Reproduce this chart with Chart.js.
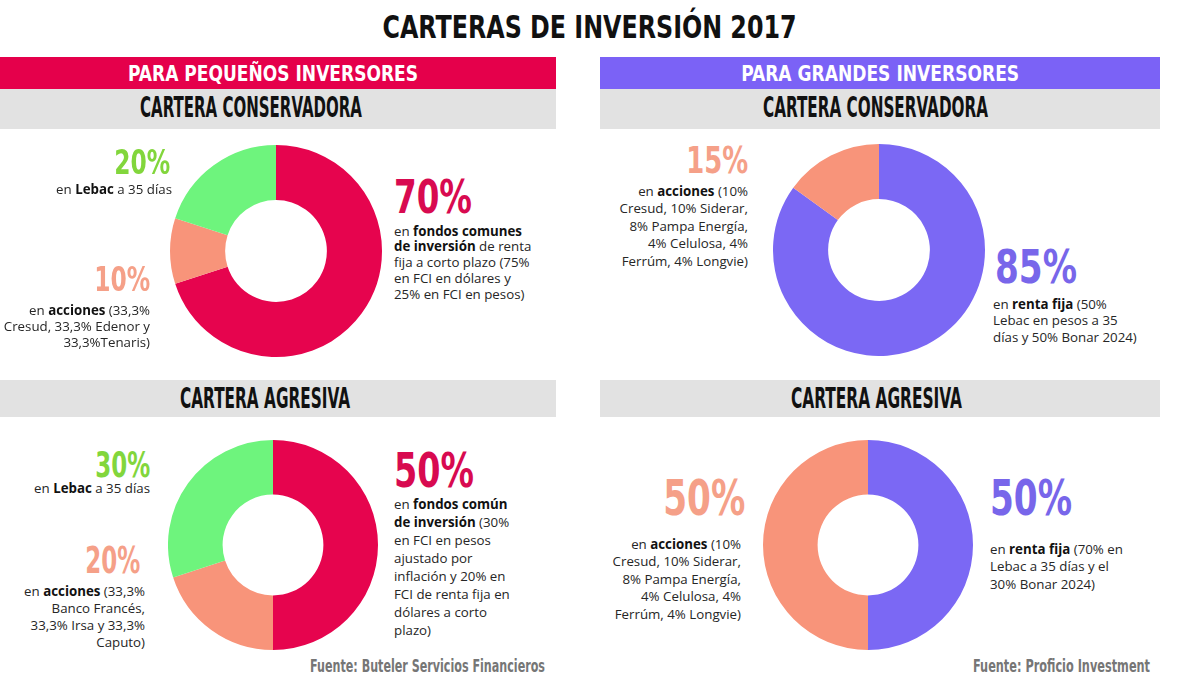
<!DOCTYPE html>
<html><head><meta charset="utf-8">
<script src="https://cdn.jsdelivr.net/npm/chart.js@4/dist/chart.umd.min.js"></script>
<style>
html,body{margin:0;padding:0;background:#fff;}
#page{position:relative;width:1200px;height:675px;overflow:hidden;background:#fff;}
.t{position:absolute;white-space:nowrap;line-height:1;}
.cond{font-family:'Liberation Sans Narrow','DejaVu Sans Condensed',sans-serif;font-weight:700;}
.ln{position:absolute;white-space:nowrap;font-family:'Open Sans',sans-serif;font-size:13.3px;line-height:18px;color:#262626;}
.ln b{color:#111;font-weight:700;}
.bar{position:absolute;}
canvas{position:absolute;}
</style></head>
<body><div id="page"></div>
<script>
// ---------- DATA ----------
const smallConsLabels = ['Fondos comunes de inversión', 'Acciones', 'Lebac a 35 días'];
const smallConsValues = [70, 10, 20];
const bigConsLabels = ['Renta fija', 'Acciones'];
const bigConsValues = [85, 15];
const smallAggLabels = ['Fondos común de inversión', 'Acciones', 'Lebac a 35 días'];
const smallAggValues = [50, 20, 30];
const bigAggLabels = ['Renta fija', 'Acciones'];
const bigAggValues = [50, 50];

const smallConsNotes = [
  ['en <b>fondos comunes</b>', '<b>de inversión</b> de renta', 'fija a corto plazo (75%', 'en FCI en dólares y', '25% en FCI en pesos)'],
  ['en <b>acciones</b> (33,3%', 'Cresud, 33,3% Edenor y', '33,3%Tenaris)'],
  ['en <b>Lebac</b> a 35 días']
];
const bigConsNotes = [
  ['en <b>renta fija</b> (50%', 'Lebac en pesos a 35', 'días y 50% Bonar 2024)'],
  ['en <b>acciones</b> (10%', 'Cresud, 10% Siderar,', '8% Pampa Energía,', '4% Celulosa, 4%', 'Ferrúm, 4% Longvie)']
];
const smallAggNotes = [
  ['en <b>fondos común</b>', '<b>de inversión</b> (30%', 'en FCI en pesos', 'ajustado por', 'inflación y 20% en', 'FCI de renta fija en', 'dólares a corto', 'plazo)'],
  ['en <b>acciones</b> (33,3%', 'Banco Francés,', '33,3% Irsa y 33,3%', 'Caputo)'],
  ['en <b>Lebac</b> a 35 días']
];
const bigAggNotes = [
  ['en <b>renta fija</b> (70% en', 'Lebac a 35 días y el', '30% Bonar 2024)'],
  ['en <b>acciones</b> (10%', 'Cresud, 10% Siderar,', '8% Pampa Energía,', '4% Celulosa, 4%', 'Ferrúm, 4% Longvie)']
];

const titleText = 'CARTERAS DE INVERSIÓN 2017';
const groupTitles = ['PARA PEQUEÑOS INVERSORES', 'PARA GRANDES INVERSORES'];
const portfolioTitles = ['CARTERA CONSERVADORA', 'CARTERA AGRESIVA'];
const sources = ['Fuente: Buteler Servicios Financieros', 'Fuente: Proficio Investment'];

// ---------- STYLE ----------
const RED = '#e6044e', SALMON = '#f8947a', GREEN = '#6ef47d', PURPLE = '#7b68f4';
const RED_T = '#d80a50', SALMON_T = '#f5a088', GREEN_T = '#82d63c', PURPLE_T = '#7866ea';
const page = document.getElementById('page');

function bar(x, y, w, h, c) {
  const d = document.createElement('div'); d.className = 'bar';
  Object.assign(d.style, {left: x + 'px', top: y + 'px', width: w + 'px', height: h + 'px', background: c});
  page.appendChild(d);
}
const fits = [];
function fitText(txt, o) {
  const d = document.createElement('div'); d.className = 't cond';
  d.textContent = txt;
  const fs = o.cap / 0.716;
  d.style.fontSize = fs + 'px'; d.style.color = o.color;
  if (o.weight) d.style.fontWeight = o.weight;
  page.appendChild(d);
  fits.push({d, o, fs});
}
function layoutFits() {
  fits.forEach(({d, o, fs}) => {
    d.style.transform = 'none';
    const w = d.getBoundingClientRect().width;
    const s = o.w / w;
    d.style.top = (o.capTop - 0.1305 * fs) + 'px';
    if (o.align === 'left') { d.style.left = o.x + 'px'; d.style.transformOrigin = 'left top'; }
    else if (o.align === 'right') { d.style.left = (o.x - w) + 'px'; d.style.transformOrigin = 'right top'; }
    else { d.style.left = (o.x - w / 2) + 'px'; d.style.transformOrigin = 'center top'; }
    d.style.transform = 'scaleX(' + s + ')';
  });
}
function lines(arr, align, x, firstCenter, step) {
  arr.forEach((h, i) => {
    const d = document.createElement('div'); d.className = 'ln';
    d.innerHTML = h;
    d.style.top = (firstCenter + i * step - 10.5) + 'px';
    if (align === 'left') d.style.left = x + 'px';
    else { d.style.right = (1200 - x) + 'px'; d.style.textAlign = 'right'; }
    page.appendChild(d);
  });
}
function donut(labels, values, colors, cx, cy, r) {
  const c = document.createElement('canvas');
  const s = 2 * r;
  Object.assign(c.style, {left: (cx - r) + 'px', top: (cy - r) + 'px', width: s + 'px', height: s + 'px'});
  c.width = s; c.height = s;
  page.appendChild(c);
  new Chart(c, {
    type: 'doughnut',
    data: {labels, datasets: [{data: values, backgroundColor: colors, borderWidth: 0, hoverOffset: 0}]},
    options: {responsive: false, animation: false, cutout: '48%', events: [],
      layout: {padding: 0}, plugins: {legend: {display: false}, tooltip: {enabled: false}}}
  });
}
const pct = v => v + '%';

// ---------- HEADERS ----------
fitText(titleText, {x: 590, align: 'center', capTop: 15, cap: 23, w: 414, color: '#111'});
bar(0, 57, 556, 32, '#e5004b');
bar(0, 89, 556, 40, '#e2e2e2');
bar(600, 57, 560, 32, '#7b62f6');
bar(600, 89, 560, 40, '#e2e2e2');
bar(0, 380, 556, 37, '#e2e2e2');
bar(600, 380, 560, 37, '#e2e2e2');
fitText(groupTitles[0], {x: 273, align: 'center', capTop: 66.5, cap: 15, w: 290, color: '#fff'});
fitText(groupTitles[1], {x: 880, align: 'center', capTop: 66.5, cap: 15, w: 278, color: '#fff'});
fitText(portfolioTitles[0], {x: 140, align: 'left', capTop: 98, cap: 20, w: 222, color: '#111'});
fitText(portfolioTitles[0], {x: 763, align: 'left', capTop: 98, cap: 20, w: 225, color: '#111'});
fitText(portfolioTitles[1], {x: 180, align: 'left', capTop: 389, cap: 20, w: 170, color: '#111'});
fitText(portfolioTitles[1], {x: 791, align: 'left', capTop: 389, cap: 20, w: 171, color: '#111'});
fitText(sources[0], {x: 310, align: 'left', capTop: 659, cap: 13, w: 235, color: '#767676'});
fitText(sources[1], {x: 973, align: 'left', capTop: 659, cap: 13, w: 177, color: '#767676'});

// ---------- DONUTS ----------
donut(smallConsLabels, smallConsValues, [RED, SALMON, GREEN], 276, 251, 106);
donut(bigConsLabels, bigConsValues, [PURPLE, SALMON], 879, 250, 106);
donut(smallAggLabels, smallAggValues, [RED, SALMON, GREEN], 273, 545, 105);
donut(bigAggLabels, bigAggValues, [PURPLE, SALMON], 868, 545, 105);

// ---------- LABELS ----------
// small conservative
fitText(pct(smallConsValues[2]), {x: 170, align: 'right', capTop: 150, cap: 24, w: 56, color: GREEN_T});
lines(smallConsNotes[2], 'right', 172, 190, 17);
fitText(pct(smallConsValues[1]), {x: 150, align: 'right', capTop: 267, cap: 24, w: 56, color: SALMON_T});
lines(smallConsNotes[1], 'right', 150, 311, 16);
fitText(pct(smallConsValues[0]), {x: 394, align: 'left', capTop: 180, cap: 33, w: 78, color: RED_T});
lines(smallConsNotes[0], 'left', 394, 232, 15.8);
// big conservative
fitText(pct(bigConsValues[1]), {x: 748, align: 'right', capTop: 147, cap: 27, w: 62, color: SALMON_T});
lines(bigConsNotes[1], 'right', 748, 192, 17.5);
fitText(pct(bigConsValues[0]), {x: 995, align: 'left', capTop: 250, cap: 33, w: 82, color: PURPLE_T});
lines(bigConsNotes[0], 'left', 993, 305, 16.5);
// small aggressive
fitText(pct(smallAggValues[2]), {x: 150, align: 'right', capTop: 452, cap: 26, w: 55, color: GREEN_T});
lines(smallAggNotes[2], 'right', 150, 489, 17);
fitText(pct(smallAggValues[1]), {x: 140, align: 'right', capTop: 547, cap: 27, w: 55, color: SALMON_T});
lines(smallAggNotes[1], 'right', 145, 592, 17);
fitText(pct(smallAggValues[0]), {x: 394, align: 'left', capTop: 453, cap: 34, w: 80, color: RED_T});
lines(smallAggNotes[0], 'left', 394, 505, 18);
// big aggressive
fitText(pct(bigAggValues[1]), {x: 745, align: 'right', capTop: 480, cap: 36, w: 82, color: SALMON_T});
lines(bigAggNotes[1], 'right', 741, 545, 17.5);
fitText(pct(bigAggValues[0]), {x: 990, align: 'left', capTop: 480, cap: 36, w: 82, color: PURPLE_T});
lines(bigAggNotes[0], 'left', 990, 550, 17.5);

layoutFits();
if (document.fonts && document.fonts.ready) document.fonts.ready.then(layoutFits);
</script>
</body></html>
